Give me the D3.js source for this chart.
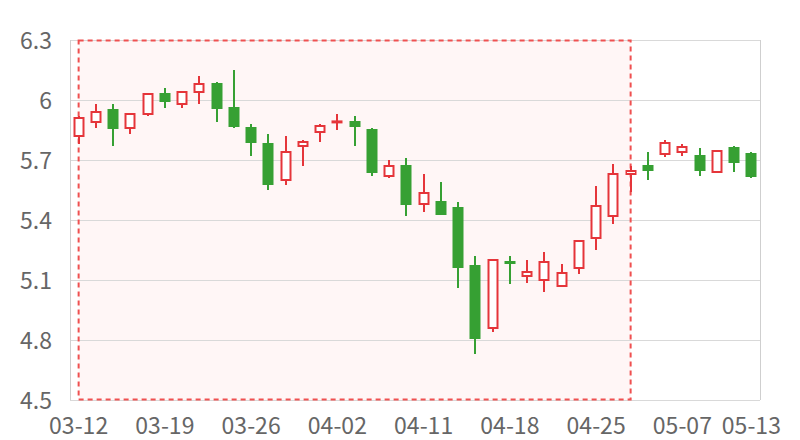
<!DOCTYPE html>
<html><head><meta charset="utf-8">
<script src="https://cdn.jsdelivr.net/npm/d3@7"></script>
<style>html,body{margin:0;padding:0;background:#fff;}svg{display:block;}</style>
</head><body><svg id="c" width="800" height="440"></svg>
<script>
const dates = ["03-12","03-13","03-14","03-15","03-18","03-19","03-20","03-21","03-22","03-25",
"03-26","03-27","03-28","03-29","04-01","04-02","04-03","04-04","04-08","04-10",
"04-11","04-12","04-15","04-16","04-17","04-18","04-19","04-22","04-23","04-24",
"04-25","04-26","04-29","04-30","05-06","05-07","05-08","05-09","05-10","05-13"];
const open  = [5.82,5.89,5.955,5.86,5.93,6.035,5.98,6.04,6.085,5.965,5.865,5.785,5.60,5.77,5.84,5.89,5.895,5.855,5.62,5.675,5.48,5.495,5.465,5.175,4.86,5.195,5.12,5.10,5.07,5.16,5.31,5.42,5.63,5.675,5.73,5.74,5.725,5.64,5.765,5.735];
const close = [5.91,5.94,5.855,5.93,6.03,5.99,6.04,6.08,5.955,5.865,5.785,5.575,5.74,5.79,5.87,5.893,5.865,5.635,5.67,5.475,5.535,5.425,5.16,4.805,5.20,5.18,5.14,5.19,5.135,5.295,5.47,5.63,5.645,5.645,5.785,5.765,5.645,5.745,5.685,5.615];
const low   = [5.78,5.86,5.77,5.83,5.92,5.96,5.96,5.98,5.89,5.86,5.72,5.55,5.575,5.67,5.79,5.85,5.77,5.62,5.61,5.42,5.44,5.425,5.06,4.73,4.84,5.08,5.085,5.04,5.065,5.13,5.25,5.38,5.54,5.60,5.715,5.72,5.62,5.635,5.64,5.61];
const high  = [5.92,5.98,5.98,5.935,6.035,6.06,6.045,6.12,6.09,6.15,5.88,5.83,5.82,5.80,5.88,5.93,5.92,5.86,5.70,5.71,5.63,5.59,5.49,5.22,5.205,5.22,5.20,5.24,5.18,5.30,5.57,5.68,5.67,5.74,5.80,5.78,5.76,5.75,5.77,5.74];
const yTicks = [4.5,4.8,5.1,5.4,5.7,6.0,6.3];
const xLabelIdx = [0,5,10,15,20,25,30,35,39];
const areaStart = 0, areaEnd = 32;

const svg = d3.select("#c");
const L=70, R=760, T=40, B=400;
const x = d3.scaleBand().domain(d3.range(dates.length)).range([L,R]).padding(0);
const cx = i => x(i) + x.bandwidth()/2;
const y = d3.scaleLinear().domain([4.5,6.3]).range([B,T]);
const font = "'Noto Sans CJK SC', 'Open Sans', sans-serif";
const red = "#e5353a", green = "#36a033";

// mark area
svg.append("rect").attr("x",cx(areaStart)).attr("y",T).attr("width",cx(areaEnd)-cx(areaStart)).attr("height",B-T)
  .attr("fill","#fff6f6");

// gridlines
svg.append("g").selectAll("line").data(yTicks).join("line")
  .attr("x1",L).attr("x2",R).attr("y1",d=>y(d)+0.5).attr("y2",d=>y(d)+0.5)
  .attr("stroke","#d9d9d9").attr("stroke-width",1);
svg.append("line").attr("x1",L+0.5).attr("x2",L+0.5).attr("y1",T).attr("y2",B).attr("stroke","#cfcfcf");
svg.append("line").attr("x1",R+0.5).attr("x2",R+0.5).attr("y1",T).attr("y2",B).attr("stroke","#cfcfcf");

// area border dashed
svg.append("rect").attr("x",cx(areaStart)).attr("y",T+0.5).attr("width",cx(areaEnd)-cx(areaStart)).attr("height",B-T-1)
  .attr("fill","none").attr("stroke","#ef5050").attr("stroke-width",2).attr("stroke-dasharray","5,4");

// y axis labels
const yAxis = d3.axisLeft(y).tickValues(yTicks).tickSize(0).tickPadding(18).tickFormat(d=>d3.format("~g")(d));
const ya = svg.append("g").attr("transform",`translate(${L},0)`).call(yAxis);
ya.select(".domain").remove();
ya.selectAll("text").attr("font-family",font).attr("font-size",23).attr("fill","#666").attr("dy","0.36em");

// x axis labels
const xAxis = d3.axisBottom(x).tickValues(xLabelIdx).tickSize(0).tickPadding(14).tickFormat(i=>dates[i]);
const xa = svg.append("g").attr("transform",`translate(0,${B})`).call(xAxis);
xa.select(".domain").remove();
xa.selectAll("text").attr("font-family",font).attr("font-size",23).attr("fill","#666").attr("y",34).attr("dy",0);

// candles
const data = dates.map((d,i)=>({i,o:open[i],c:close[i],l:low[i],h:high[i]}));
const bw = 11;
const g = svg.append("g");
data.forEach(d=>{
  const up = d.c >= d.o;
  const col = up ? red : green;
  const xc = Math.round(cx(d.i));
  const top = y(Math.max(d.o,d.c)), bot = y(Math.min(d.o,d.c));
  g.append("line").attr("x1",xc).attr("x2",xc).attr("y1",y(d.h)).attr("y2",y(d.l)).attr("stroke",col).attr("stroke-width",2);
  if (up) {
    g.append("rect").attr("x",xc-bw/2+1).attr("y",top).attr("width",bw-2).attr("height",Math.max(bot-top,1))
      .attr("fill","#fff").attr("stroke",col).attr("stroke-width",2);
  } else {
    g.append("rect").attr("x",xc-bw/2).attr("y",top).attr("width",bw).attr("height",Math.max(bot-top,2))
      .attr("fill",col);
  }
});
</script></body></html>
